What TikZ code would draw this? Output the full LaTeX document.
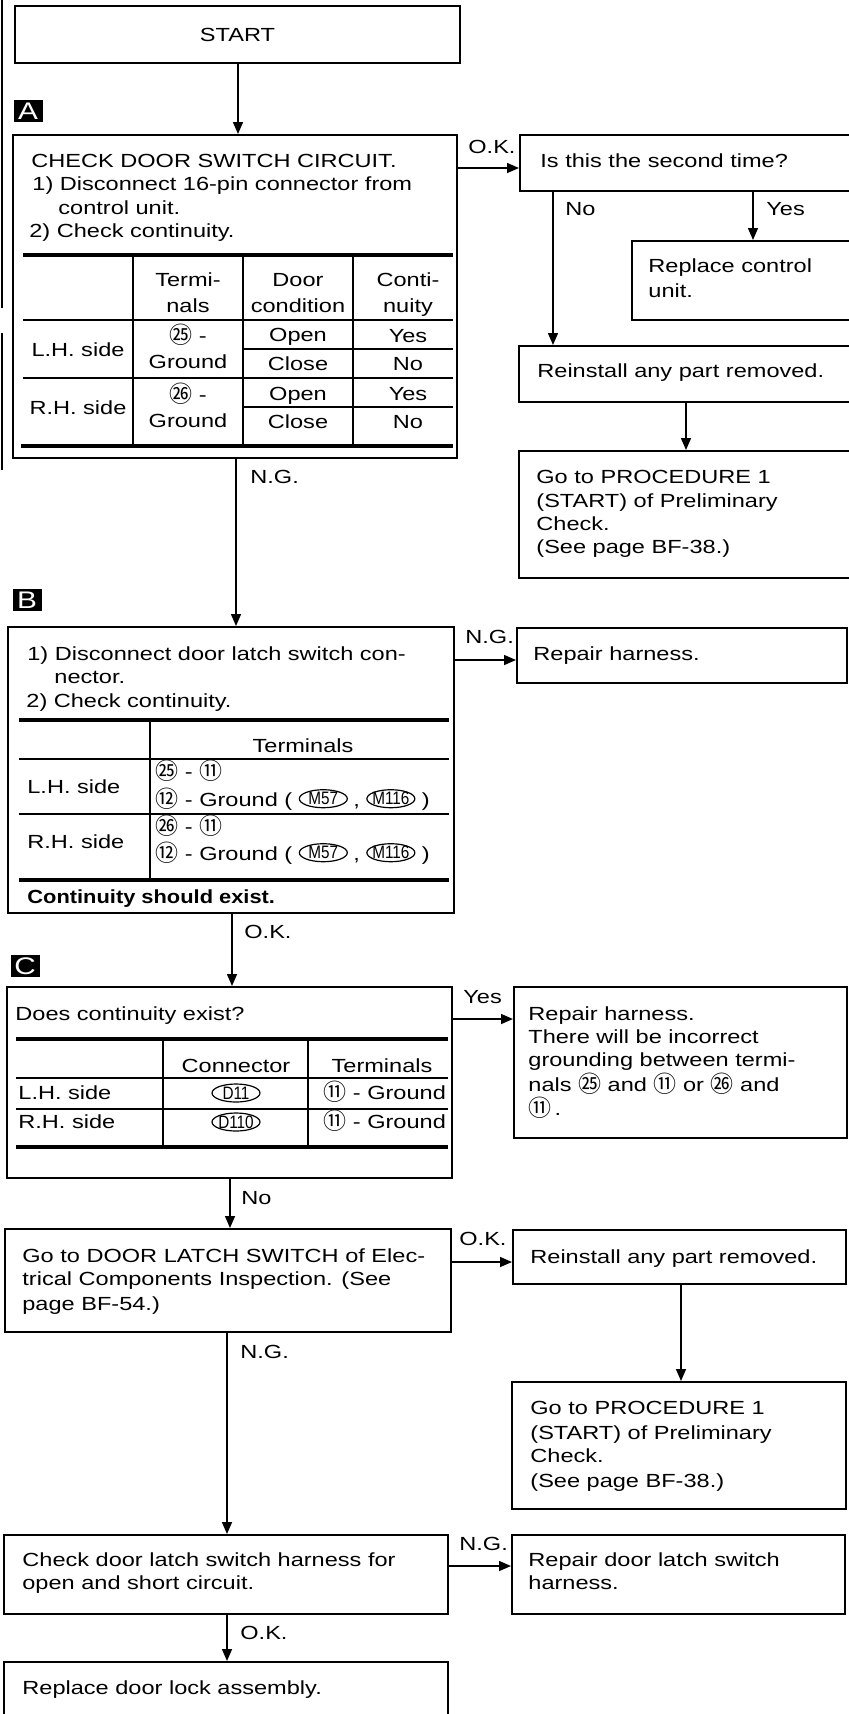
\documentclass[tikz,border=0pt]{standalone}
\usepackage{fontspec}
\setmainfont{Liberation Sans}[FakeStretch=1.24, BoldFeatures={FakeStretch=1.15}]
\newfontfamily\cjk{Noto Sans CJK JP}
\newfontfamily\ovf{Liberation Sans}[FakeStretch=0.85]
\usetikzlibrary{arrows.meta,fit,shapes.geometric}
\newcommand\cnum[1]{\raisebox{-0.6pt}{\cjk\fontsize{11.5}{12}\selectfont #1}}
\begin{document}
\begin{tikzpicture}[x=0.5pt,y=-0.5pt, font=\fontsize{9.5}{11.75}\selectfont,
 box/.style={draw,line width=1pt,inner sep=0pt,rectangle},
 tl/.style={anchor=base west,inner sep=0pt},
 tc/.style={anchor=base,inner sep=0pt},
 arr/.style={line width=0.75pt,-{Triangle[length=6pt,width=5pt]}},
 trule/.style={line width=2pt},
 thinrule/.style={line width=0.9pt},
 badge/.style={fill=black,text=white,inner sep=0pt,minimum width=14.5pt,minimum height=11pt,font=\fontsize{12}{12}\selectfont},
 oval/.style={ellipse,draw,line width=0.6pt,inner xsep=-4pt,inner ysep=-0.5pt,minimum width=24pt,minimum height=9pt,font=\ovf\fontsize{9}{9}\selectfont}]
\useasboundingbox (0,0) rectangle (849,1714);
% scan edge
\draw[line width=0.8pt] (2,0) -- (2,308) (2,333) -- (2,470);
% START
\node[box,fit={(15,6)(460,63)}] (nStart) {};
\node[inner sep=0pt] (tStart) at (nStart.center) {START};
\node[badge] (bdA) at (28,111) {A};
% Box A
\node[box,fit={(13,135)(457,458)}] (nA) {};
\node[tl] (a1) at (31,167) {CHECK DOOR SWITCH CIRCUIT.};
\node[tl] (a2) at (32,190) {1) Disconnect 16-pin connector from};
\node[tl] (a3) at (58,214) {control unit.};
\node[tl] (a4) at (29,237) {2) Check continuity.};
\draw[trule] (23,255) -- (453,255);
\draw[trule] (21,446) -- (453,446);
\draw[thinrule] (23,320) -- (453,320) (243,349) -- (453,349) (23,378) -- (453,378) (243,407) -- (453,407);
\draw[thinrule] (133,255) -- (133,446) (243,255) -- (243,446) (353,255) -- (353,446);
\node[tc] (ah1) at (188,286) {Termi-};
\node[tc] (ah2) at (188,312) {nals};
\node[tc] (ah3) at (298,286) {Door};
\node[tc] (ah4) at (298,312) {condition};
\node[tc] (ah5) at (408,286) {Conti-};
\node[tc] (ah6) at (408,312) {nuity};
\node[tc] (ar1) at (78,356) {L.H. side};
\node[tc] (ar2) at (188,342) {\cnum{㉕} -};
\node[tc] (ar3) at (188,368) {Ground};
\node[tc] (ar4) at (298,341) {Open};
\node[tc] (ar5) at (298,370) {Close};
\node[tc] (ar6) at (408,342) {Yes};
\node[tc] (ar7) at (408,370) {No};
\node[tc] (ar8) at (78,414) {R.H. side};
\node[tc] (ar9) at (188,401) {\cnum{㉖} -};
\node[tc] (ar10) at (188,427) {Ground};
\node[tc] (ar11) at (298,400) {Open};
\node[tc] (ar12) at (298,428) {Close};
\node[tc] (ar13) at (408,400) {Yes};
\node[tc] (ar14) at (408,428) {No};
% Right top
\node[box,fit={(520,135)(852,191)}] (nQ) {};
\node[tl] (q1) at (540,167) {Is this the second time?};
\node[box,fit={(632,241)(852,320)}] (nRep) {};
\node[tl] (r1) at (648,272) {Replace control};
\node[tl] (r2) at (648,297) {unit.};
\node[box,fit={(519,346)(852,402)}] (nRe1) {};
\node[tl] (re1) at (537,377) {Reinstall any part removed.};
\node[box,fit={(519,451)(852,578)}] (nGo1) {};
\node[tl] (g1) at (536,483) {Go to PROCEDURE 1};
\node[tl] (g2) at (536,507) {(START) of Preliminary};
\node[tl] (g3) at (536,530) {Check.};
\node[tl] (g4) at (536,553) {(See page BF-38.)};
\node[tl] (lOKA) at (468,153) {O.K.};
\node[tl] (lNo) at (565,215) {No};
\node[tl] (lYes) at (766,215) {Yes};
\node[tl] (lNGA) at (250,483) {N.G.};
% Box B
\node[badge] (bdB) at (27,600) {B};
\node[box,fit={(8,627)(454,913)}] (nB) {};
\node[tl] (bt1) at (27,660) {1) Disconnect door latch switch con-};
\node[tl] (bt2) at (54,683) {nector.};
\node[tl] (bt3) at (26,707) {2) Check continuity.};
\draw[trule] (19,720) -- (449,720);
\draw[thinrule] (19,759) -- (449,759) (19,814) -- (449,814);
\draw[thinrule] (150,720) -- (150,880);
\draw[trule] (19,880) -- (449,880);
\node[tc] (bh) at (303,752) {Terminals};
\node[tl] (bl1) at (27,793) {L.H. side};
\node[tl] (bl2) at (27,848) {R.H. side};
\node[tl] (b1) at (155,778) {\cnum{㉕} - \cnum{⑪}};
\node[tl] (b2) at (155,806) {\cnum{⑫} - Ground (};
\node[oval,anchor=west,xshift=3pt,yshift=1pt] (b2m) at (b2.mid east) {M57};
\node[tl,xshift=2.5pt] (b2c) at (b2m.east |- b2.base) {,};
\node[oval,anchor=west,xshift=3pt,yshift=1pt] (b2n) at (b2c.mid east) {M116};
\node[tl,xshift=3pt] (b2e) at (b2n.east |- b2.base) {)};
\node[tl] (b3) at (155,833) {\cnum{㉖} - \cnum{⑪}};
\node[tl] (b4) at (155,860) {\cnum{⑫} - Ground (};
\node[oval,anchor=west,xshift=3pt,yshift=1pt] (b4m) at (b4.mid east) {M57};
\node[tl,xshift=2.5pt] (b4c) at (b4m.east |- b4.base) {,};
\node[oval,anchor=west,xshift=3pt,yshift=1pt] (b4n) at (b4c.mid east) {M116};
\node[tl,xshift=3pt] (b4e) at (b4n.east |- b4.base) {)};
\node[tl] (bc) at (27,903) {\bfseries Continuity should exist.};
\node[box,fit={(517,628)(847,683)}] (nRH1) {};
\node[tl] (rh1) at (533,660) {Repair harness.};
\node[tl] (lNGB) at (465,643) {N.G.};
\node[tl] (lOKB) at (244,938) {O.K.};
% Box C
\node[badge] (bdC) at (25,966) {C};
\node[box,fit={(7,987)(452,1178)}] (nC) {};
\node[tl] (c1) at (15,1020) {Does continuity exist?};
\draw[trule] (16,1039) -- (448,1039);
\draw[thinrule] (16,1078) -- (448,1078) (16,1109) -- (448,1109);
\draw[thinrule] (163,1039) -- (163,1147) (308,1039) -- (308,1147);
\draw[trule] (16,1147) -- (448,1147);
\node[tc] (ch1) at (236,1072) {Connector};
\node[tc] (ch2) at (382,1072) {Terminals};
\node[tl] (cl1) at (18,1099) {L.H. side};
\node[oval] (cd1) at (236,1093) {D11};
\node[tl] (ct1) at (323,1099) {\cnum{⑪} - Ground};
\node[tl] (cl2) at (18,1128) {R.H. side};
\node[oval] (cd2) at (236,1122) {D110};
\node[tl] (ct2) at (323,1128) {\cnum{⑪} - Ground};
\node[box,fit={(514,987)(847,1138)}] (nRH2) {};
\node[tl] (h1) at (528,1020) {Repair harness.};
\node[tl] (h2) at (528,1043) {There will be incorrect};
\node[tl] (h3) at (528,1066) {grounding between termi-};
\node[tl] (h4) at (528,1091) {nals \cnum{㉕} and \cnum{⑪} or \cnum{㉖} and};
\node[tl] (h5) at (528,1115) {\cnum{⑪}\,.};
\node[tl] (lYC) at (463,1003) {Yes};
\node[tl] (lNoC) at (241,1204) {No};
% Box D
\node[box,fit={(5,1229)(451,1332)}] (nD) {};
\node[tl] (d1) at (22,1262) {Go to DOOR LATCH SWITCH of Elec-};
\node[tl] (d2) at (22,1285) {trical Components Inspection. (See};
\node[tl] (d3) at (22,1310) {page BF-54.)};
\node[box,fit={(513,1230)(846,1284)}] (nRe2) {};
\node[tl] (e1) at (530,1263) {Reinstall any part removed.};
\node[box,fit={(512,1382)(846,1509)}] (nGo2) {};
\node[tl] (f1) at (530,1414) {Go to PROCEDURE 1};
\node[tl] (f2) at (530,1439) {(START) of Preliminary};
\node[tl] (f3) at (530,1462) {Check.};
\node[tl] (f4) at (530,1487) {(See page BF-38.)};
\node[tl] (lOKD) at (459,1245) {O.K.};
\node[tl] (lNGD) at (240,1358) {N.G.};
% Box E
\node[box,fit={(4,1535)(448,1614)}] (nE) {};
\node[tl] (k1) at (22,1566) {Check door latch switch harness for};
\node[tl] (k2) at (22,1589) {open and short circuit.};
\node[box,fit={(512,1535)(845,1614)}] (nRD) {};
\node[tl] (m1) at (528,1566) {Repair door latch switch};
\node[tl] (m2) at (528,1589) {harness.};
\node[tl] (lNGE) at (459,1550) {N.G.};
\node[tl] (lOKE) at (240,1639) {O.K.};
\node[box,fit={(4,1662)(448,1725)}] (nF) {};
\node[tl] (n1) at (22,1694) {Replace door lock assembly.};
% connectors
\coordinate (xS) at (238,0);
\coordinate (yOKA) at (0,168);
\coordinate (xNo) at (553,0);
\coordinate (xYes) at (753,0);
\coordinate (xR1) at (686,0);
\coordinate (xAB) at (236,0);
\coordinate (yNGB) at (0,660);
\coordinate (xBC) at (232,0);
\coordinate (yYC) at (0,1019);
\coordinate (xCD) at (230,0);
\coordinate (yOKD) at (0,1262);
\coordinate (xR2) at (681,0);
\coordinate (xDE) at (227,0);
\coordinate (yNGE) at (0,1566);
\draw[arr] (nStart.south -| xS) -- (nA.north -| xS);
\draw[arr] (nA.east |- yOKA) -- (nQ.west |- yOKA);
\draw[arr] (nQ.south -| xNo) -- (nRe1.north -| xNo);
\draw[arr] (nQ.south -| xYes) -- (nRep.north -| xYes);
\draw[arr] (nRe1.south -| xR1) -- (nGo1.north -| xR1);
\draw[arr] (nA.south -| xAB) -- (nB.north -| xAB);
\draw[arr] (nB.east |- yNGB) -- (nRH1.west |- yNGB);
\draw[arr] (nB.south -| xBC) -- (nC.north -| xBC);
\draw[arr] (nC.east |- yYC) -- (nRH2.west |- yYC);
\draw[arr] (nC.south -| xCD) -- (nD.north -| xCD);
\draw[arr] (nD.east |- yOKD) -- (nRe2.west |- yOKD);
\draw[arr] (nRe2.south -| xR2) -- (nGo2.north -| xR2);
\draw[arr] (nD.south -| xDE) -- (nE.north -| xDE);
\draw[arr] (nE.east |- yNGE) -- (nRD.west |- yNGE);
\draw[arr] (nE.south -| xDE) -- (nF.north -| xDE);
\end{tikzpicture}
\end{document}
